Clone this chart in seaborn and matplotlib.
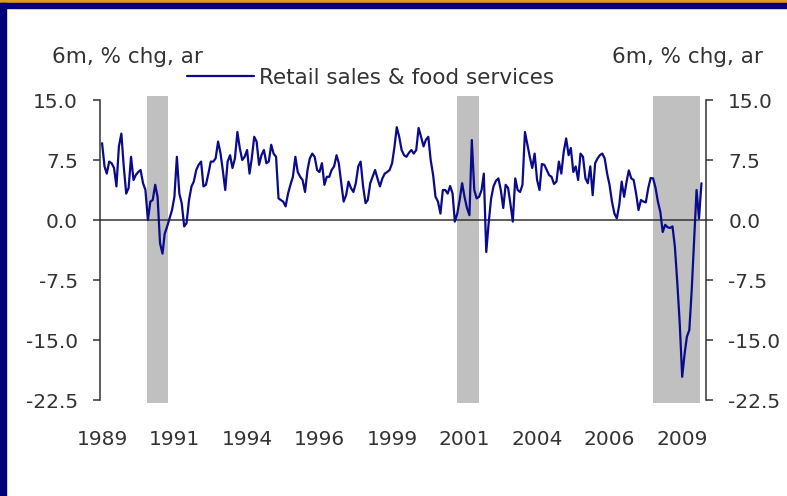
import pandas as pd
import matplotlib.pyplot as plt
from matplotlib.patches import Rectangle
import seaborn as sns


# Data

START = "1989-01-01"

retail_sales = [
    9.6, 6.7, 5.8, 7.3, 7.1, 6.5, 4.2, 9.2, 10.8, 6.7, 3.3, 4.0,
    7.9, 5.0, 5.6, 6.0, 6.25, 4.6, 3.75, 0.0, 2.3, 2.5, 4.4, 2.9,
    -2.9, -4.2, -1.7, -0.8, 0.2, 1.25, 2.9, 7.9, 3.3, 2.1, -0.8, -0.4,
    2.5, 4.2, 4.8, 6.25, 6.9, 7.3, 4.2, 4.4, 5.8, 7.3, 7.3, 7.7,
    9.8, 8.3, 6.25, 3.75, 7.3, 8.1, 6.5, 7.7, 11.0, 9.0, 7.5, 7.9,
    8.75, 5.8, 7.7, 10.4, 9.8, 6.9, 8.1, 8.75, 7.1, 7.3, 9.4, 8.3,
    7.9, 2.7, 2.5, 2.3, 1.7, 3.3, 4.4, 5.4, 7.9, 6.0, 5.4, 5.0,
    3.5, 6.25, 7.7, 8.3, 7.9, 6.25, 6.0, 7.1, 4.4, 5.4, 5.4, 6.25,
    6.7, 8.1, 7.1, 4.6, 2.3, 3.1, 4.8, 4.0, 3.5, 4.6, 6.7, 7.3,
    4.2, 2.1, 2.5, 4.6, 5.4, 6.25, 5.2, 4.2, 5.2, 5.8, 6.0, 6.25,
    7.1, 9.2, 11.6, 10.4, 8.75, 8.1, 7.9, 8.4, 8.75, 8.3, 8.75, 11.5,
    10.4, 9.2, 10.0, 10.4, 7.5, 5.6, 2.9, 2.3, 0.8, 3.75, 3.75, 3.3,
    4.25, 3.3, -0.2, 0.8, 2.5, 4.6, 2.9, 1.5, 0.6, 10.0, 3.75, 2.7,
    2.9, 3.75, 5.8, -4.0, -0.4, 2.7, 4.2, 4.9, 5.2, 3.75, 1.5, 4.4,
    4.0, 1.9, -0.2, 5.2, 3.75, 3.5, 4.4, 11.0, 9.4, 7.9, 6.5, 8.3,
    5.0, 3.75, 7.0, 6.9, 6.25, 5.6, 5.4, 4.5, 4.8, 7.3, 5.8, 8.5,
    10.2, 8.1, 9.0, 6.0, 6.7, 5.0, 8.3, 7.9, 5.2, 4.6, 6.7, 3.1,
    7.1, 7.7, 8.1, 8.3, 7.7, 5.8, 4.4, 2.3, 0.8, 0.2, 1.9, 4.8,
    2.9, 4.8, 6.2, 5.2, 5.0, 3.3, 1.25, 2.5, 2.3, 2.2, 4.0, 5.25,
    5.2, 4.0, 2.3, 1.0, -1.5, -0.6, -0.9, -1.0, -0.8, -3.3, -7.9, -12.9,
    -19.6, -16.7, -14.6, -13.75, -8.75, -2.5, 3.75, 0.2, 4.6,
]

recession_start = ["1990-07-15", "2001-03-25", "2008-01-01"]
recession_end = ["1991-04-10", "2001-12-31", "2009-08-15"]

tick_dates = ["1989-01-01", "1991-07-01", "1994-01-01", "1996-07-01", "1999-01-01",
              "2001-07-01", "2004-01-01", "2006-07-01", "2009-01-01"]
tick_labels = ["1989", "1991", "1994", "1996", "1999", "2001", "2004", "2006", "2009"]

y_ticks = [-22.5, -15.0, -7.5, 0.0, 7.5, 15.0]

df = pd.DataFrame({
    "date": pd.date_range(START, periods=len(retail_sales), freq="MS"),
    "value": retail_sales,
})


# Style

sns.set_style("white")
plt.rcParams["font.family"] = ["DejaVu Sans"]
plt.rcParams["axes.unicode_minus"] = False

TEXT = "#333333"
LINE = "#0a0a8c"
FS = 14.5      # tick labels
FS_TXT = 15.5  # unit labels and legend

fig = plt.figure(figsize=(7.87, 4.96), dpi=100)
ax = fig.add_axes([100 / 787, 1 - 403 / 496, 606 / 787, 307 / 496])

# recession bars
for s, e in zip(recession_start, recession_end):
    ax.axvspan(pd.Timestamp(s), pd.Timestamp(e), color="#c0c0c0", lw=0, zorder=0)

sns.lineplot(data=df, x="date", y="value", color=LINE, linewidth=1.6,
             label="Retail sales & food services", ax=ax, zorder=3)

ax.set_xlim(pd.Timestamp("1988-12-06"), pd.Timestamp("2009-10-28"))
ax.set_ylim(-22.875, 15.5)
ax.set_xlabel("")
ax.set_ylabel("")

# left axis
ax.set_yticks(y_ticks)
ax.set_yticklabels([f"{v:.1f}" for v in y_ticks])
ax.spines["left"].set_bounds(-22.5, 15)
ax.spines["top"].set_visible(False)
ax.spines["right"].set_visible(False)
ax.spines["bottom"].set_position(("data", 0))
for side in ["left", "bottom"]:
    ax.spines[side].set_color(TEXT)
    ax.spines[side].set_linewidth(1.1)
ax.tick_params(axis="y", direction="out", length=5, width=1.1, color=TEXT,
               pad=11, labelsize=FS, labelcolor=TEXT)

# x ticks on the zero line, labels at the bottom
ax.set_xticks([pd.Timestamp(d) for d in tick_dates])
ax.set_xticklabels(tick_labels)
ax.tick_params(axis="x", direction="out", length=5, width=1.1, color=TEXT,
               pad=146, labelsize=FS, labelcolor=TEXT)

# right axis
ax2 = ax.twinx()
ax2.set_ylim(ax.get_ylim())
ax2.set_yticks(y_ticks)
ax2.set_yticklabels([f"{v:.1f}" for v in y_ticks])
for side in ["left", "top", "bottom"]:
    ax2.spines[side].set_visible(False)
ax2.spines["right"].set_bounds(-22.5, 15)
ax2.spines["right"].set_color(TEXT)
ax2.spines["right"].set_linewidth(1.1)
ax2.tick_params(axis="y", direction="out", length=5, width=1.1, color=TEXT,
                pad=11, labelsize=FS, labelcolor=TEXT)
ax2.grid(False)

# legend
leg = ax.legend(loc="center left", bbox_to_anchor=(187 / 787, 1 - 78 / 496),
                bbox_transform=fig.transFigure, frameon=False, borderpad=0,
                borderaxespad=0, handlelength=3.1, handletextpad=0.25,
                fontsize=FS_TXT)
for t in leg.get_texts():
    t.set_color(TEXT)

# unit labels
fig.text(52 / 787, 1 - 57 / 496, "6m, % chg, ar", ha="left", va="center",
         fontsize=FS_TXT, color=TEXT)
fig.text(763 / 787, 1 - 57 / 496, "6m, % chg, ar", ha="right", va="center",
         fontsize=FS_TXT, color=TEXT)

# slide frame
fig.patches.append(Rectangle((0, 1 - 3 / 496), 1, 3 / 496, transform=fig.transFigure,
                             color="#e09a1e", zorder=10))
fig.patches.append(Rectangle((0, 1 - 8 / 496), 1, 5 / 496, transform=fig.transFigure,
                             color="#00007a", zorder=10))
fig.patches.append(Rectangle((0, 0), 6 / 787, 1 - 3 / 496, transform=fig.transFigure,
                             color="#00007a", zorder=10))

fig.savefig("out.png", dpi=100)
plt.close()
